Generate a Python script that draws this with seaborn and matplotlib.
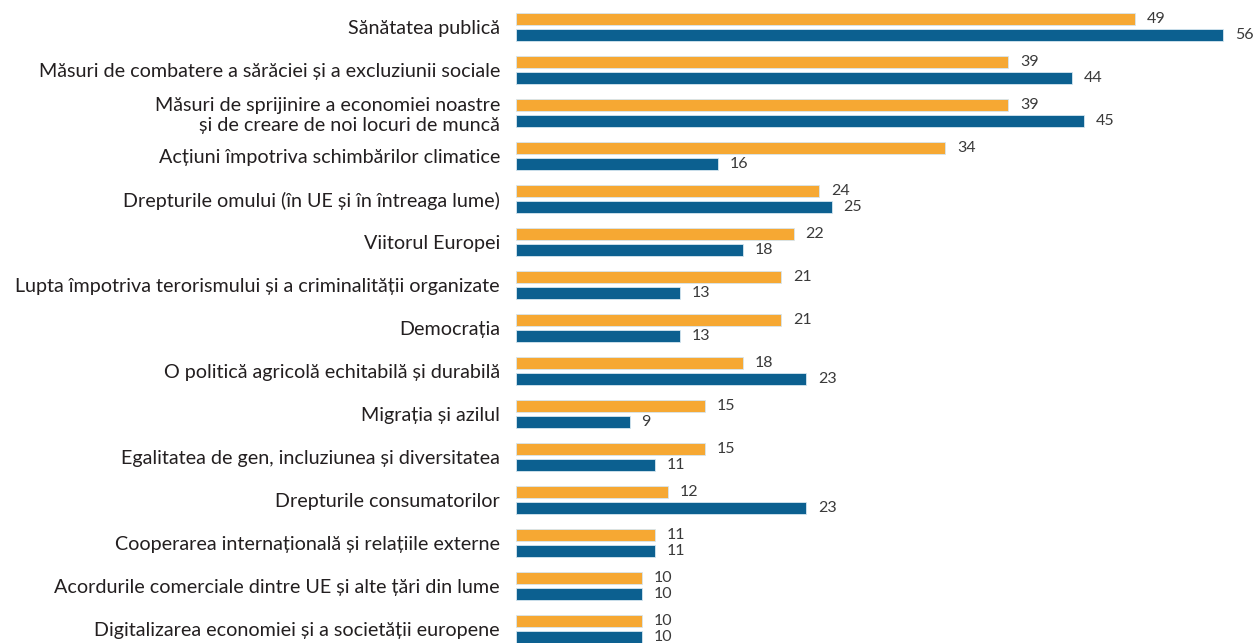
import matplotlib
matplotlib.use("Agg")
import matplotlib.pyplot as plt
import numpy as np
import pandas as pd
import seaborn as sns

categories = [
    "Sănătatea publică",
    "Măsuri de combatere a sărăciei și a excluziunii sociale",
    "Măsuri de sprijinire a economiei noastre\nși de creare de noi locuri de muncă",
    "Acțiuni împotriva schimbărilor climatice",
    "Drepturile omului (în UE și în întreaga lume)",
    "Viitorul Europei",
    "Lupta împotriva terorismului și a criminalității organizate",
    "Democrația",
    "O politică agricolă echitabilă și durabilă",
    "Migrația și azilul",
    "Egalitatea de gen, incluziunea și diversitatea",
    "Drepturile consumatorilor",
    "Cooperarea internațională și relațiile externe",
    "Acordurile comerciale dintre UE și alte țări din lume",
    "Digitalizarea economiei și a societății europene",
]
series_names = ["UE27", "RO"]
ue_values = [49, 39, 39, 34, 24, 22, 21, 21, 18, 15, 15, 12, 11, 10, 10]
ro_values = [56, 44, 45, 16, 25, 18, 13, 13, 23, 9, 11, 23, 11, 10, 10]

df = pd.DataFrame({
    "categorie": categories * 2,
    "serie": [series_names[0]] * len(categories) + [series_names[1]] * len(categories),
    "valoare": ue_values + ro_values,
})

sns.set_style("white")
plt.rcParams["font.family"] = ["Lato", "DejaVu Sans"]

fig = plt.figure(figsize=(12.54, 6.43), dpi=100)
ax = fig.add_axes([516 / 1254, 0, 1 - 516 / 1254, 1])

sns.barplot(
    data=df, y="categorie", x="valoare", hue="serie",
    order=categories, hue_order=series_names,
    palette=["#F6A833", "#0C6090"], saturation=1, orient="h",
    width=0.74, gap=0.2, edgecolor="#D6E6F0", linewidth=0.6,
    legend=False, ax=ax,
)

for cont in ax.containers:
    ax.bar_label(cont, padding=8.5, fontsize=11.5, color="#3A3A3A")

ax.set_xlim(0, 738 / 12.625)
ax.set_ylim((643 - 27) / 43, -27 / 43)
ax.set_xlabel("")
ax.set_ylabel("")
ax.set_xticks([])
ax.tick_params(axis="y", length=0, pad=11.5, labelsize=14.2, labelcolor="#231F20")
for lbl in ax.get_yticklabels():
    lbl.set_horizontalalignment("right")
    lbl.set_linespacing(1.2)
sns.despine(ax=ax, left=True, bottom=True)

fig.savefig("out.png", dpi=100)
